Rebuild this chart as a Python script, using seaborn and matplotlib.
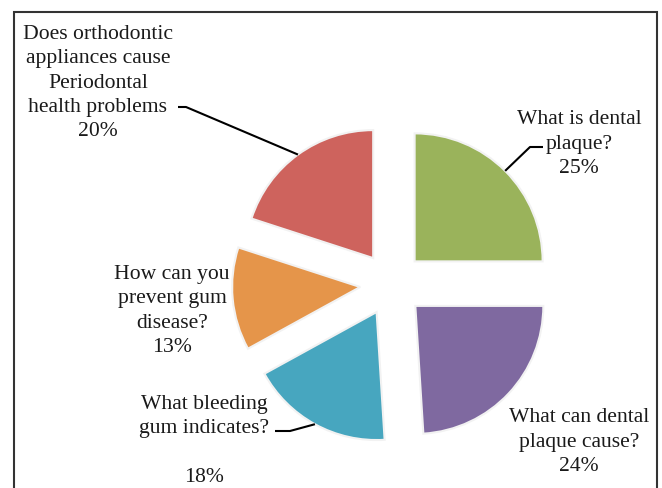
import matplotlib
matplotlib.use("Agg")
import matplotlib.pyplot as plt
import seaborn as sns
import numpy as np
from matplotlib.patches import Rectangle

# ---- data ----
categories = [
    "What is dental\nplaque?",
    "What can dental\nplaque cause?",
    "What bleeding\ngum indicates?\n ",
    "How can you\nprevent gum\ndisease?",
    "Does orthodontic\nappliances cause\nPeriodontal\nhealth problems",
]
values = [25, 24, 18, 13, 20]
colors = ["#9AB35B", "#7F69A0", "#47A6BF", "#E5954A", "#CE635D"]

sns.set_theme(style="white")
plt.rcParams["font.family"] = ["Liberation Serif", "DejaVu Serif"]

W, H, DPI = 662, 488, 100
fig = plt.figure(figsize=(W / DPI, H / DPI), dpi=DPI)
ax = fig.add_axes([0, 0, 1, 1])

# pixel -> data mapping (pie radius 128 px, centre at px (392, 284))
R, CX, CY = 128.0, 392.0, 284.0
def p2d(px, py):
    return ((px - CX) / R, (CY - py) / R)

explode = [0.25] * len(values)
wedges, _ = ax.pie(values, colors=colors, explode=explode, startangle=90,
                   counterclock=False, radius=1.0,
                   wedgeprops=dict(edgecolor="#f2f2f2", linewidth=1.5))

ax.set_aspect("auto")
ax.set_xlim(p2d(0, 0)[0], p2d(W, 0)[0])
ax.set_ylim(p2d(0, H)[1], p2d(0, 0)[1])
ax.axis("off")

def arc_mid(w):
    ang = np.deg2rad((w.theta1 + w.theta2) / 2)
    cx, cy = w.center
    return cx + w.r * np.cos(ang), cy + w.r * np.sin(ang)

# label layout (pixel positions of label centres)
label_pos = [(579, 144), (579, 442), (204, 441), (172, 311), (98, 83)]
txt_kw = dict(ha="center", va="center", fontsize=15.6, color="#1a1a1a",
              linespacing=1.38)
for cat, val, (px, py) in zip(categories, values, label_pos):
    x, y = p2d(px, py)
    ax.text(x, y, f"{cat}\n{val}%", **txt_kw)

# leader lines (elbow points in pixels)
leaders = {
    0: [(530, 147), (543, 147)],
    2: [(290, 431), (275, 431)],
    4: [(186, 107), (178, 107)],
}
for i, pts in leaders.items():
    sx, sy = arc_mid(wedges[i])
    xs = [sx] + [p2d(*p)[0] for p in pts]
    ys = [sy] + [p2d(*p)[1] for p in pts]
    ax.plot(xs, ys, color="black", lw=1.5, solid_capstyle="butt")

# outer frame
fig.patches.append(Rectangle((14 / W, -0.05), (657 - 14) / W, (H - 12) / H + 0.05,
                             transform=fig.transFigure, fill=False,
                             edgecolor="#333333", linewidth=1.5))

fig.savefig("out.png", dpi=DPI)
